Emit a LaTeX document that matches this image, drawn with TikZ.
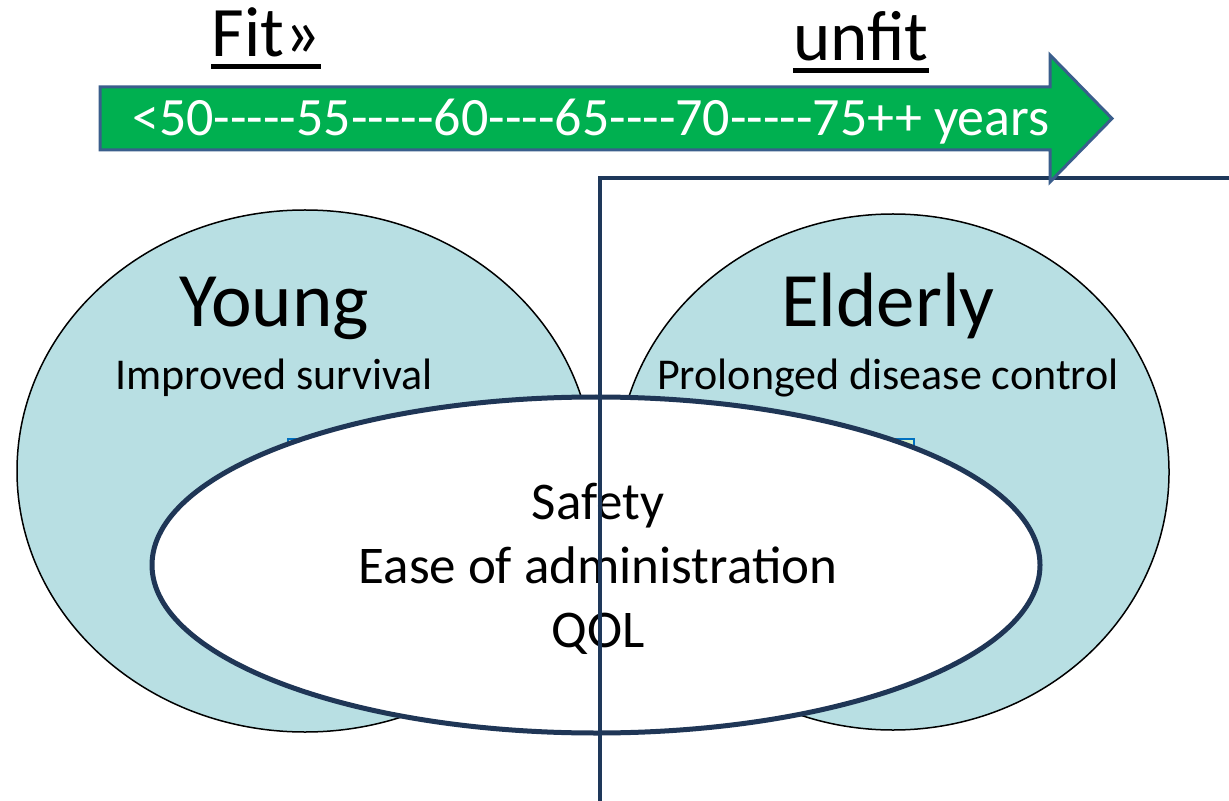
\documentclass[tikz,border=0pt]{standalone}
\usepackage{fontspec}
\setmainfont{Carlito}[Ligatures=TeXOff]
\usetikzlibrary{positioning, shapes.geometric}
\definecolor{barfill}{RGB}{0,176,80}
\definecolor{baredge}{RGB}{58,94,140}
\definecolor{divider}{RGB}{30,56,90}
\definecolor{groupfill}{RGB}{184,223,227}
\definecolor{overlapedge}{RGB}{31,54,86}
\definecolor{boxedge}{RGB}{0,112,192}
\definecolor{boxfill}{RGB}{214,240,200}

\begin{document}
\begin{tikzpicture}[x=0.5pt, y=-0.5pt,
    group/.style={ellipse, draw=black, line width=0.75pt, fill=groupfill, inner sep=0pt},
    overlap/.style={ellipse, draw=overlapedge, line width=2.5pt, fill=white, inner sep=0pt},
    title/.style={anchor=base, inner sep=0pt, font=\fontsize{38.5}{46}\selectfont},
    subtitle/.style={anchor=base, inner sep=0pt, font=\fontsize{22}{26}\selectfont},
    heading/.style={anchor=base, inner sep=0pt, font=\fontsize{35.5}{42}\selectfont},
    ulline/.style={line width=2.5pt},
    divline/.style={draw=divider, line width=2pt}
]
\useasboundingbox (0,0) rectangle (1229,801);

% two age groups
\node[group, minimum width=288pt, minimum height=261pt] (young_grp) at (305,471) {};
\node[group, minimum width=276pt, minimum height=258pt] (elder_grp) at (893,472) {};

% box hidden behind the common part
\node[draw=boxedge, fill=boxfill, line width=1pt, inner sep=0pt, anchor=north west,
      minimum width=313pt, minimum height=120pt] (hidden_box) at (287,438) {};

% common goals
\node[overlap, minimum width=444pt, minimum height=168pt] (common) at (596,565) {};
\node[anchor=base, inner sep=0pt, align=center, font=\fontsize{26.5}{32}\selectfont] (goals) at (598,647)
    {Safety\\Ease of administration\\QOL};

% group titles
\node[title] (young) at (274,327) {Young};
\node[subtitle, below=31.5pt of young.base, anchor=base] (young_aim) {Improved survival};
\node[title] (elderly) at (888,327) {Elderly};
\node[subtitle, below=31.5pt of elderly.base, anchor=base] (elder_aim) {Prolonged disease control};

% dividing lines
\coordinate (corner) at (600,178);
\coordinate (div_bottom) at (600,801);
\coordinate (div_right) at (1229,178);
\draw[divline] (div_bottom) -- (corner) -- (div_right);

% age arrow
\draw[fill=barfill, draw=baredge, line width=1.5pt]
    (100,87) -- (1050,87) -- (1050,55) -- (1112,118.5) -- (1050,182) -- (1050,150) -- (100,150) -- cycle;
\node[anchor=base, inner sep=0pt, text=white, font=\fontsize{27}{32}\selectfont] (ages) at (591,136)
    {<50-----55-----60----65----70-----75++ years};

% fit / unfit
\node[heading] (fit) at (266,57) {Fit»};
\draw[ulline] ([yshift=-5pt]fit.base west) -- ([yshift=-5pt]fit.base east);
\node[heading] (unfit) at (861,61) {unfit};
\draw[ulline] ([yshift=-5pt]unfit.base west) -- ([yshift=-5pt]unfit.base east);

\end{tikzpicture}
\end{document}
